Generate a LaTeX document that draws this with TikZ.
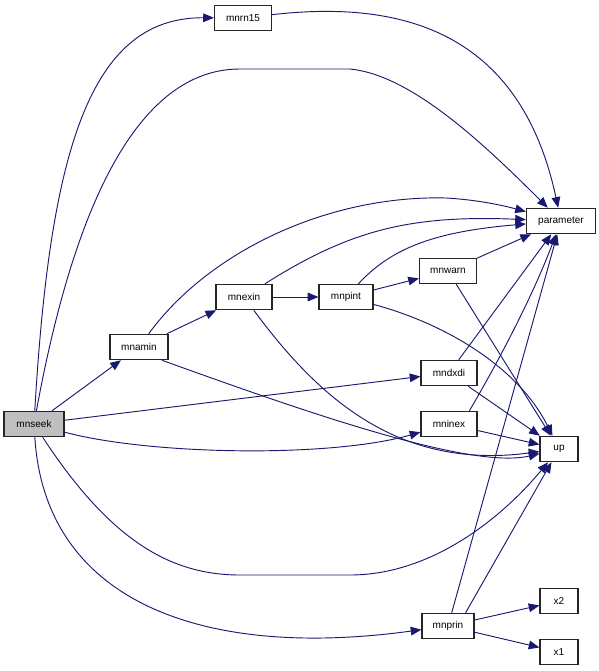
\documentclass[tikz,border=0pt]{standalone}
\usepackage{fontspec}
\setmainfont{Liberation Sans}
\usetikzlibrary{arrows.meta}
\definecolor{callblue}{RGB}{25,25,112}
\definecolor{rootgray}{RGB}{191,191,191}
\begin{document}
\begin{tikzpicture}[x=0.75pt, y=-0.75pt,
    fn/.style={draw=black!85, line width=0.9pt, fill=white, inner sep=0pt,
        minimum height=19pt, font=\fontsize{7.5}{9}\selectfont},
    call/.style={draw=callblue, line width=0.7pt,
        -{Triangle[length=8pt, width=6.5pt]}}]
    \useasboundingbox (0,0) rectangle (599,671);

    \node[fn, fill=rootgray, minimum width=45pt] (mnseek) at (34,424) {mnseek};
    \node[fn, minimum width=42.75pt] (mnrn15) at (243,18) {mnrn15};
    \node[fn, minimum width=51.75pt] (parameter) at (561,221) {parameter};
    \node[fn, minimum width=43.5pt] (mnamin) at (139,347) {mnamin};
    \node[fn, minimum width=42pt] (mnexin) at (244,297) {mnexin};
    \node[fn, minimum width=40.5pt] (mnpint) at (346,297) {mnpint};
    \node[fn, minimum width=42.75pt] (mnwarn) at (448,271) {mnwarn};
    \node[fn, minimum width=42pt] (mndxdi) at (449,373) {mndxdi};
    \node[fn, minimum width=42pt] (mninex) at (449,424) {mninex};
    \node[fn, minimum width=28.5pt] (up) at (559,449) {up};
    \node[fn, minimum width=39pt] (mnprin) at (448,626) {mnprin};
    \node[fn, minimum width=28.5pt] (x2) at (559,601) {x2};
    \node[fn, minimum width=28.5pt] (x1) at (559,652) {x1};

    \draw[call] (mnseek) .. controls (50,150) and (90,17) .. (mnrn15);
    \draw[call] (mnseek) .. controls (75,200) and (140,69) .. (240,69) -- (350,69)
        .. controls (410,75) and (480,140) .. (parameter);
    \draw[call] (mnseek) -- (mnamin);
    \draw[call] (mnseek) -- (mndxdi);
    \draw[call] (mnseek) .. controls (150,455) and (330,458) .. (mninex);
    \draw[call] (mnseek) .. controls (110,540) and (170,575) .. (240,575) -- (350,575)
        .. controls (430,575) and (500,520) .. (up);
    \draw[call] (mnseek) .. controls (45,600) and (200,660) .. (mnprin);

    \draw[call] (mnrn15) .. controls (400,0) and (520,30) .. (parameter);

    \draw[call] (mnamin) -- (mnexin);
    \draw[call] (mnamin) .. controls (210,250) and (330,195) .. (446,198)
        .. controls (480,200) and (505,206) .. (parameter);
    \draw[call] (mnamin.-30) .. controls (300,410) and (470,470) .. (up);

    \draw[call] (mnexin) -- (mnpint);
    \draw[call] (mnexin) .. controls (350,230) and (410,215) .. (parameter);
    \draw[call] (mnexin) .. controls (320,400) and (400,470) .. (up);

    \draw[call] (mnpint) -- (mnwarn);
    \draw[call] (mnpint) .. controls (390,250) and (430,232) .. (parameter);
    \draw[call] (mnpint) .. controls (450,325) and (520,370) .. (up);

    \draw[call] (mnwarn) -- (parameter);
    \draw[call] (mnwarn) -- (up);

    \draw[call] (mndxdi) -- (parameter);
    \draw[call] (mndxdi) -- (up);

    \draw[call] (mninex.33) .. controls (505,350) and (535,290) .. (parameter);
    \draw[call] (mninex) -- (up);

    \draw[call] (mnprin) -- (parameter);
    \draw[call] (mnprin.37) -- (up);
    \draw[call] (mnprin) -- (x2);
    \draw[call] (mnprin) -- (x1);
\end{tikzpicture}
\end{document}
